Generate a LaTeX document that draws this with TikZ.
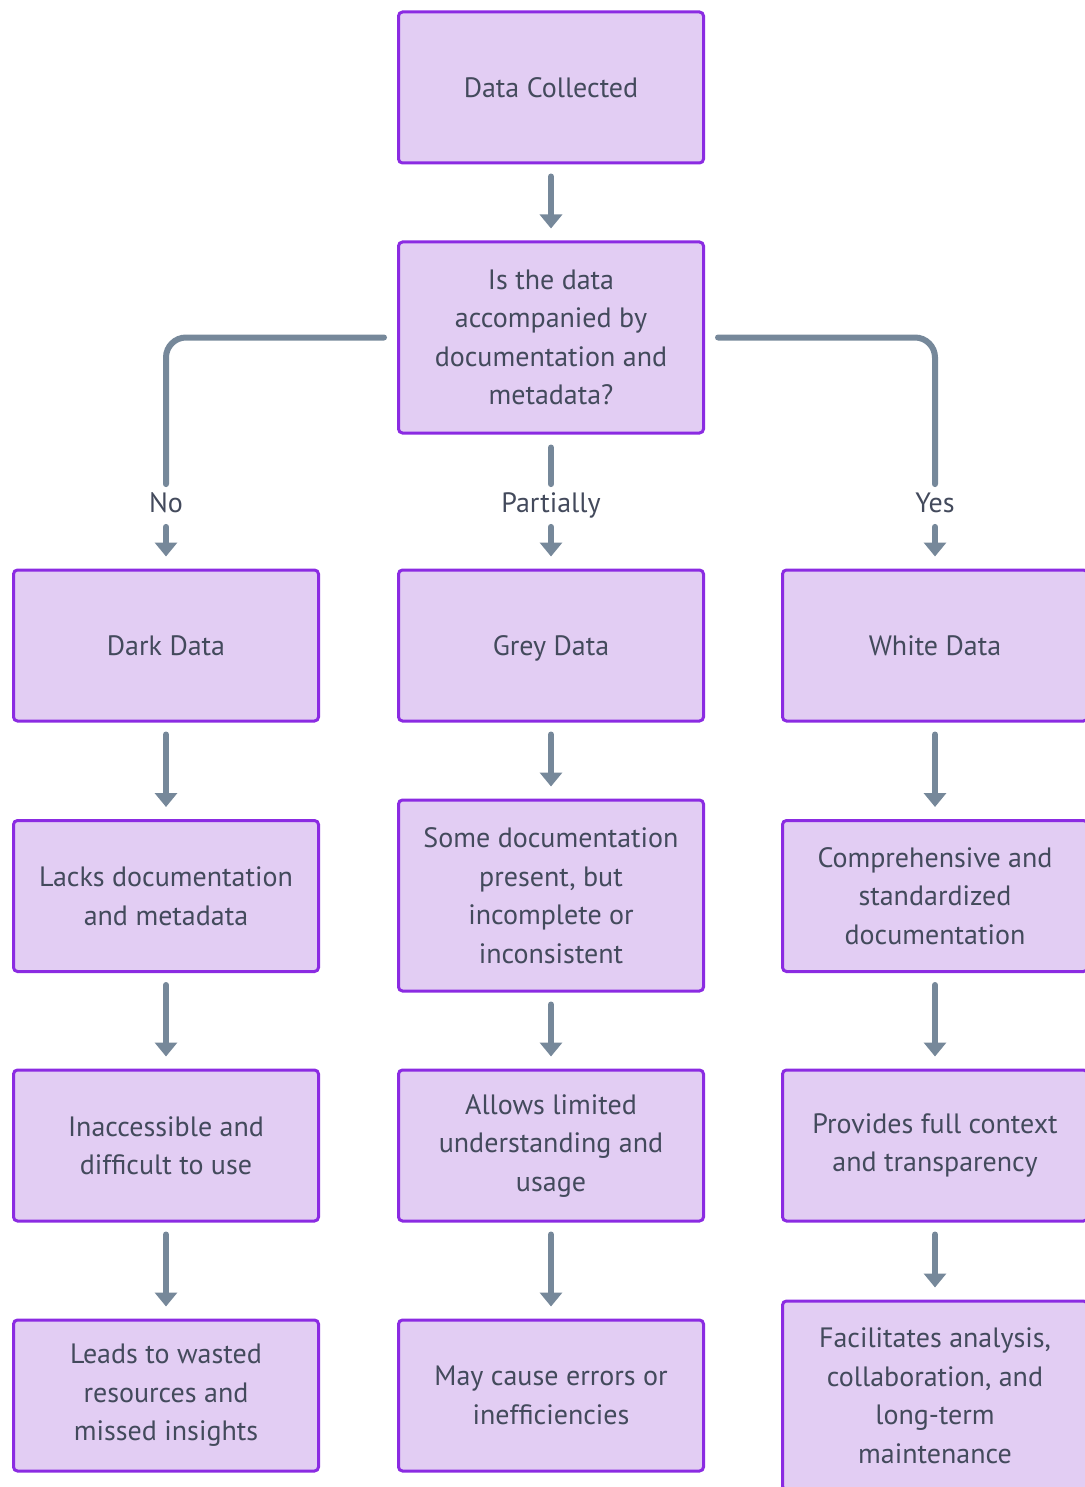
\documentclass[tikz,border=0pt]{standalone}
\usepackage{fontspec}
\setmainfont{PT Sans}
\usepackage{xcolor}
\usetikzlibrary{arrows.meta}

\definecolor{boxfill}{HTML}{E2CDF3}
\definecolor{boxline}{HTML}{8B2BE2}
\definecolor{conncol}{HTML}{76889A}
\definecolor{txtcol}{HTML}{434A5C}

\begin{document}
\begin{tikzpicture}[x=0.5pt, y=-0.5pt,
    box/.style={draw=boxline, fill=boxfill, line width=1.5pt, rounded corners=2pt,
        minimum width=152.5pt, minimum height=75.5pt, align=center, text=txtcol,
        font=\fontsize{14}{19.25}\selectfont},
    conn/.style={draw=conncol, line width=3pt, line cap=round},
    arr/.style={conn, -{Triangle[width=11pt,length=7pt]}, shorten <=6pt, shorten >=6pt},
    lbl/.style={text=txtcol, inner sep=0pt, text height=10pt, text depth=0pt,
        font=\fontsize{14}{19.25}\selectfont}]
    \useasboundingbox (0,0) rectangle (1085,1487);

    % Top
    \node[box] (collected) at (551,87.5) {Data Collected};
    \node[box, minimum height=95.5pt] (question) at (551,337.5)
        {Is the data\\accompanied by\\documentation and\\metadata?};

    % Branch labels
    \node[lbl] (lno) at (166,502.5) {No};
    \node[lbl] (lpart) at (551,502.5) {Partially};
    \node[lbl] (lyes) at (935,502.5) {Yes};

    % Dark data column
    \node[box] (dark) at (166,645.5) {Dark Data};
    \node[box] (darkdoc) at (166,896) {Lacks documentation\\and metadata};
    \node[box] (darkuse) at (166,1145.5) {Inaccessible and\\difficult to use};
    \node[box] (darkend) at (166,1395.5) {Leads to wasted\\resources and\\missed insights};

    % Grey data column
    \node[box, text depth=0pt] (grey) at (551,645.5) {Grey Data};
    \node[box, minimum height=95.5pt] (greydoc) at (551,895.5)
        {Some documentation\\present, but\\incomplete or\\inconsistent};
    \node[box] (greyuse) at (551,1145.5) {Allows limited\\understanding and\\usage};
    \node[box] (greyend) at (551,1395.5) {May cause errors or\\inefficiencies};

    % White data column
    \node[box] (white) at (935,645.5) {White Data};
    \node[box] (whitedoc) at (935,896) {Comprehensive and\\standardized\\documentation};
    \node[box] (whiteuse) at (935,1145.5) {Provides full context\\and transparency};
    \node[box, minimum height=94.5pt] (whiteend) at (935,1395.5)
        {Facilitates analysis,\\collaboration, and\\long-term\\maintenance};

    % Connectors
    \draw[arr] (collected) -- (question);
    \draw[conn, rounded corners=10pt, shorten <=6.5pt, shorten >=4pt] (question.west) -| (lno);
    \draw[conn, shorten <=6.5pt, shorten >=4pt] (question) -- (lpart);
    \draw[conn, rounded corners=10pt, shorten <=6.5pt, shorten >=4pt] (question.east) -| (lyes);
    \draw[arr, shorten <=7pt] (lno) -- (dark);
    \draw[arr, shorten <=7pt] (lpart) -- (grey);
    \draw[arr, shorten <=7pt] (lyes) -- (white);

    \draw[arr] (dark) -- (darkdoc);
    \draw[arr] (darkdoc) -- (darkuse);
    \draw[arr] (darkuse) -- (darkend);
    \draw[arr] (grey) -- (greydoc);
    \draw[arr] (greydoc) -- (greyuse);
    \draw[arr] (greyuse) -- (greyend);
    \draw[arr] (white) -- (whitedoc);
    \draw[arr] (whitedoc) -- (whiteuse);
    \draw[arr] (whiteuse) -- (whiteend);

\end{tikzpicture}
\end{document}
